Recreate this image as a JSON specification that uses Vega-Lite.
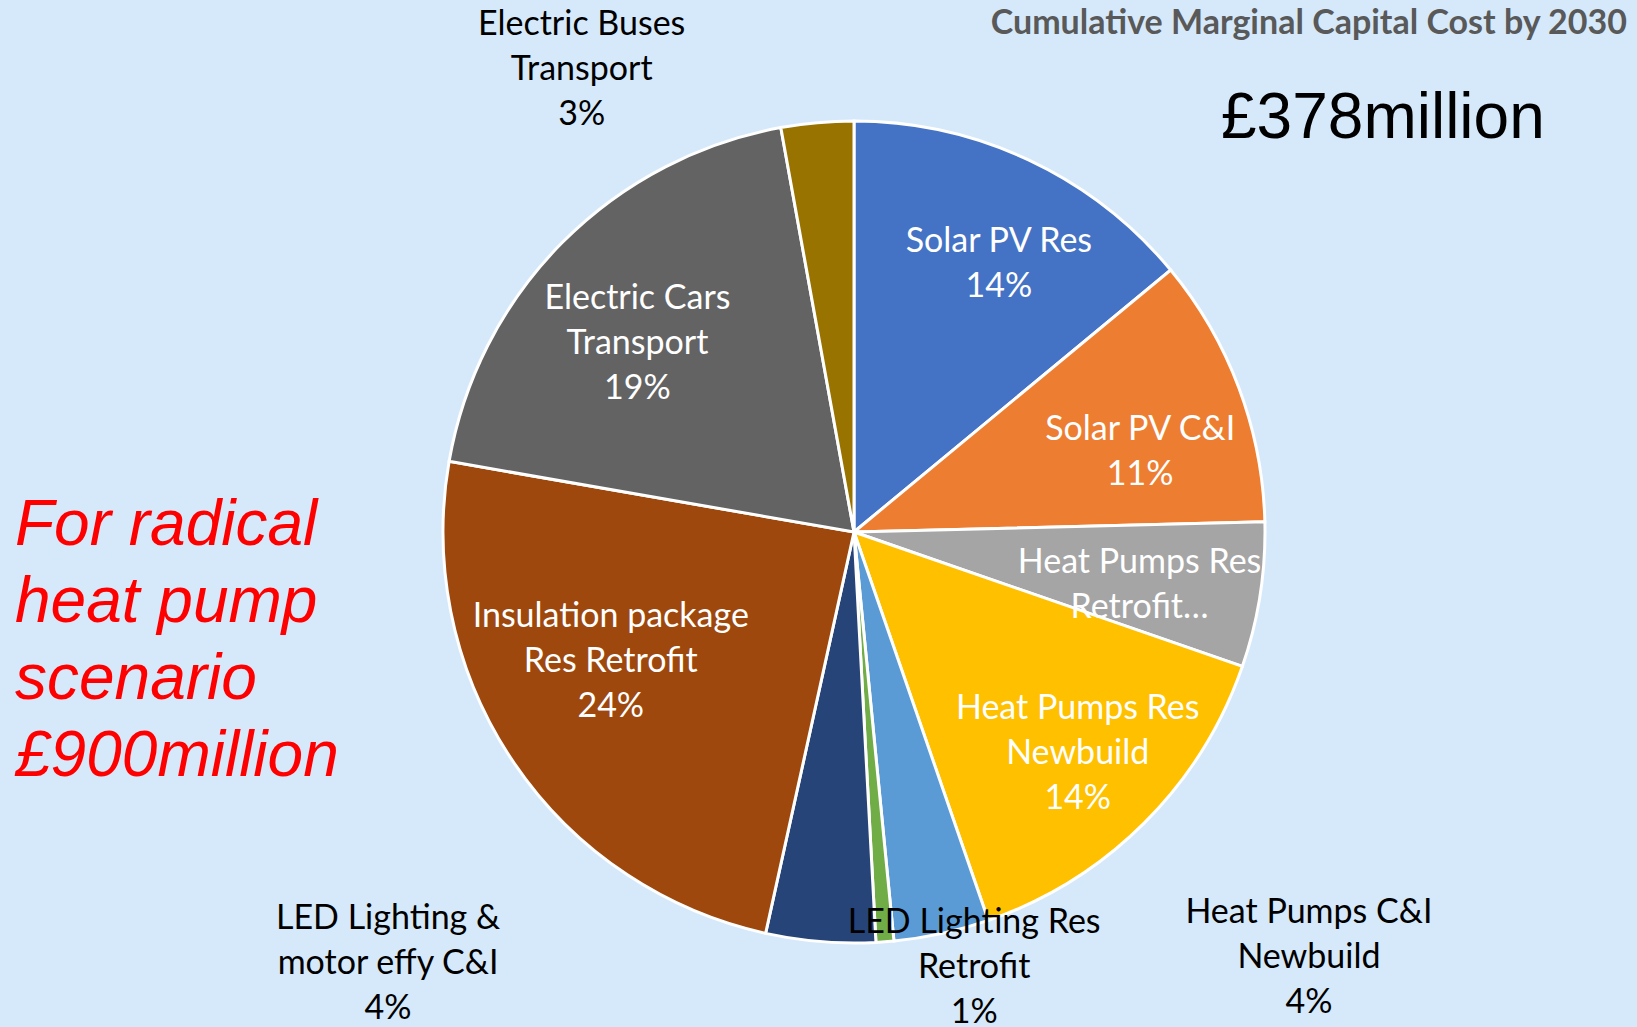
{
  "$schema": "https://vega.github.io/schema/vega-lite/v6.json",
  "width": 1637,
  "height": 1027,
  "autosize": "none",
  "padding": 0,
  "background": "#d6e9fb",
  "config": {"view": {"stroke": null}},
  "data": {
    "values": [
      {"category": "Solar PV Res", "share": 14.0, "rank": 1, "label": "Solar PV Res\n14%"},
      {"category": "Solar PV C&I", "share": 10.6, "rank": 2, "label": "Solar PV C&I\n11%"},
      {"category": "Heat Pumps Res Retrofit", "share": 5.7, "rank": 3, "label": "Heat Pumps Res\nRetrofit…"},
      {"category": "Heat Pumps Res Newbuild", "share": 14.4, "rank": 4, "label": "Heat Pumps Res\nNewbuild\n14%"},
      {"category": "Heat Pumps C&I Newbuild", "share": 3.75, "rank": 5, "label": "Heat Pumps C&I\nNewbuild\n4%"},
      {"category": "LED Lighting Res Retrofit", "share": 0.7, "rank": 6, "label": "LED Lighting Res\nRetrofit\n1%"},
      {"category": "LED Lighting & motor effy C&I", "share": 4.3, "rank": 7, "label": "LED Lighting &\nmotor effy C&I\n4%"},
      {"category": "Insulation package Res Retrofit", "share": 24.3, "rank": 8, "label": "Insulation package\nRes Retrofit\n24%"},
      {"category": "Electric Cars Transport", "share": 19.4, "rank": 9, "label": "Electric Cars\nTransport\n19%"},
      {"category": "Electric Buses Transport", "share": 2.85, "rank": 10, "label": "Electric Buses\nTransport\n3%"}
    ]
  },
  "encoding": {
    "theta": {"field": "share", "type": "quantitative", "stack": true},
    "order": {"field": "rank", "type": "quantitative"},
    "x": {"value": 854},
    "y": {"value": 532}
  },
  "layer": [
    {
      "mark": {"type": "arc", "outerRadius": 411, "stroke": "white", "strokeWidth": 3},
      "encoding": {
        "color": {
          "field": "category", "type": "nominal", "legend": null,
          "scale": {
            "domain": ["Solar PV Res", "Solar PV C&I", "Heat Pumps Res Retrofit", "Heat Pumps Res Newbuild", "Heat Pumps C&I Newbuild", "LED Lighting Res Retrofit", "LED Lighting & motor effy C&I", "Insulation package Res Retrofit", "Electric Cars Transport", "Electric Buses Transport"],
            "range": ["#4472C4", "#ED7D31", "#A5A5A5", "#FFC000", "#5B9BD5", "#70AD47", "#264478", "#9E480E", "#636363", "#997300"]
          }
        }
      }
    },
    {
      "mark": {"type": "text", "radius": 305, "dx": 15, "dy": -14.5, "font": "Lato", "fontSize": 34, "color": "white", "lineBreak": "\n", "lineHeight": 45, "align": "center", "baseline": "middle"},
      "encoding": {"text": {"condition": {"test": "datum.category === 'Solar PV Res'", "field": "label"}, "value": ""}}
    },
    {
      "mark": {"type": "text", "radius": 297, "dx": 8, "dy": 2.5, "font": "Lato", "fontSize": 34, "color": "white", "lineBreak": "\n", "lineHeight": 45, "align": "center", "baseline": "middle"},
      "encoding": {"text": {"condition": {"test": "datum.category === 'Solar PV C&I'", "field": "label"}, "value": ""}}
    },
    {
      "mark": {"type": "text", "radius": 291, "dx": -2, "dy": -13.5, "font": "Lato", "fontSize": 34, "color": "white", "lineBreak": "\n", "lineHeight": 45, "align": "center", "baseline": "middle"},
      "encoding": {"text": {"condition": {"test": "datum.category === 'Heat Pumps Res Retrofit'", "field": "label"}, "value": ""}}
    },
    {
      "mark": {"type": "text", "radius": 315, "dx": 1, "dy": -46, "font": "Lato", "fontSize": 34, "color": "white", "lineBreak": "\n", "lineHeight": 45, "align": "center", "baseline": "middle"},
      "encoding": {"text": {"condition": {"test": "datum.category === 'Heat Pumps Res Newbuild'", "field": "label"}, "value": ""}}
    },
    {
      "mark": {"type": "text", "radius": 276, "dx": -14, "dy": -69, "font": "Lato", "fontSize": 34, "color": "white", "lineBreak": "\n", "lineHeight": 45, "align": "center", "baseline": "middle"},
      "encoding": {"text": {"condition": {"test": "datum.category === 'Insulation package Res Retrofit'", "field": "label"}, "value": ""}}
    },
    {
      "mark": {"type": "text", "radius": 287, "dx": -13, "dy": -31, "font": "Lato", "fontSize": 34, "color": "white", "lineBreak": "\n", "lineHeight": 45, "align": "center", "baseline": "middle"},
      "encoding": {"text": {"condition": {"test": "datum.category === 'Electric Cars Transport'", "field": "label"}, "value": ""}}
    },
    {
      "mark": {"type": "text", "radius": 440, "dx": -233, "dy": -69, "font": "Lato", "fontSize": 34, "color": "black", "lineBreak": "\n", "lineHeight": 45, "align": "center", "baseline": "middle"},
      "encoding": {"text": {"condition": {"test": "datum.category === 'Electric Buses Transport'", "field": "label"}, "value": ""}}
    },
    {
      "mark": {"type": "text", "radius": 440, "dx": 361, "dy": -49, "font": "Lato", "fontSize": 34, "color": "black", "lineBreak": "\n", "lineHeight": 45, "align": "center", "baseline": "middle"},
      "encoding": {"text": {"condition": {"test": "datum.category === 'Heat Pumps C&I Newbuild'", "field": "label"}, "value": ""}}
    },
    {
      "mark": {"type": "text", "radius": 440, "dx": 87, "dy": -48, "font": "Lato", "fontSize": 34, "color": "black", "lineBreak": "\n", "lineHeight": 45, "align": "center", "baseline": "middle"},
      "encoding": {"text": {"condition": {"test": "datum.category === 'LED Lighting Res Retrofit'", "field": "label"}, "value": ""}}
    },
    {
      "mark": {"type": "text", "radius": 440, "dx": -430, "dy": -52, "font": "Lato", "fontSize": 34, "color": "black", "lineBreak": "\n", "lineHeight": 45, "align": "center", "baseline": "middle"},
      "encoding": {"text": {"condition": {"test": "datum.category === 'LED Lighting & motor effy C&I'", "field": "label"}, "value": ""}}
    },
    {
      "data": {"values": [{"note": "Cumulative Marginal Capital Cost by 2030"}]},
      "mark": {"type": "text", "font": "Lato", "fontWeight": "bold", "fontSize": 34, "color": "#595959", "align": "right", "baseline": "alphabetic"},
      "encoding": {"theta": null, "order": null, "text": {"field": "note"}, "x": {"value": 1627}, "y": {"value": 34}}
    },
    {
      "data": {"values": [{"note": "£378million"}]},
      "mark": {"type": "text", "font": "Liberation Sans", "fontSize": 64, "color": "black", "align": "left", "baseline": "alphabetic"},
      "encoding": {"theta": null, "order": null, "text": {"field": "note"}, "x": {"value": 1221}, "y": {"value": 138}}
    },
    {
      "data": {"values": [{"note": "For radical\nheat pump\nscenario\n£900million"}]},
      "mark": {"type": "text", "font": "Liberation Sans", "fontStyle": "italic", "fontSize": 64, "color": "#FF0000", "align": "left", "baseline": "alphabetic", "lineBreak": "\n", "lineHeight": 77},
      "encoding": {"theta": null, "order": null, "text": {"field": "note"}, "x": {"value": 15}, "y": {"value": 545}}
    }
  ]
}
